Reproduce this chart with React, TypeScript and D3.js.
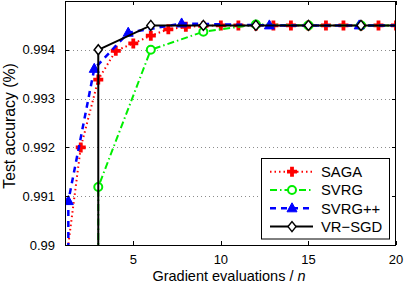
import React from "react";
import * as d3 from "d3";

// SAGA: one point per pass
const sagaX = [1, 2, 3, 4, 5, 6, 7, 8, 9, 10, 11, 12, 13, 14, 15, 16, 17, 18, 19, 20];
const sagaY = [
  0.9892, 0.992, 0.99339, 0.99398, 0.99413, 0.99429, 0.99442, 0.99447, 0.99449, 0.9945,
  0.9945, 0.9945, 0.9945, 0.9945, 0.9945, 0.9945, 0.9945, 0.9945, 0.9945, 0.9945,
];

const svrgX = [3, 3, 6, 9, 12, 15, 18, 21];
const svrgY = [0.98, 0.99119, 0.994, 0.99437, 0.99452, 0.9945, 0.9945, 0.9945];

const svrgppX = [1.29, 1.29, 2.77, 4.71, 7.76, 12.77, 17.9, 22.9];
const svrgppY = [0.98, 0.9909, 0.99361, 0.99435, 0.99454, 0.9945, 0.9945, 0.9945];

const vrsgdX = [3, 3, 6, 9, 12, 15, 18, 21];
const vrsgdY = [0.98, 0.994, 0.9945, 0.9945, 0.9945, 0.9945, 0.9945, 0.9945];

const xTicks = [5, 10, 15, 20];
const yTicks = [0.99, 0.991, 0.992, 0.993, 0.994];
const yTickLabels = ["0.99", "0.991", "0.992", "0.993", "0.994"];

const legendNames = ["SAGA", "SVRG", "SVRG++", "VR\u2212SGD"];

const W = 404;
const H = 284;
const margin = { left: 65, right: 8, top: 1, bottom: 39 };
const font = "'Liberation Sans', Arial, Helvetica, sans-serif";

type Marker = "plus" | "circle" | "triangle" | "diamond";

const series: {
  xs: number[];
  ys: number[];
  color: string;
  dash: string;
  width: number;
  marker: Marker;
}[] = [
  { xs: sagaX, ys: sagaY, color: "#ff0000", dash: "1.5,3", width: 2, marker: "plus" },
  { xs: svrgX, ys: svrgY, color: "#00ee00", dash: "7,3,1.5,3", width: 2, marker: "circle" },
  { xs: svrgppX, ys: svrgppY, color: "#0000ff", dash: "6,5", width: 2.5, marker: "triangle" },
  { xs: vrsgdX, ys: vrsgdY, color: "#000000", dash: "", width: 2, marker: "diamond" },
];

function MarkerShape({ type, x, y, color }: { type: Marker; x: number; y: number; color: string }) {
  if (type === "plus") {
    const a = 5;
    const t = 1.9;
    const d = `M${-t},${-a}H${t}V${-t}H${a}V${t}H${t}V${a}H${-t}V${t}H${-a}V${-t}H${-t}Z`;
    return <path d={d} transform={`translate(${x},${y})`} fill={color} />;
  }
  if (type === "circle") {
    return <circle cx={x} cy={y} r={4} fill="#fff" stroke={color} strokeWidth={2} />;
  }
  if (type === "triangle") {
    return (
      <path d="M0,-5.5L5,3.5L-5,3.5Z" transform={`translate(${x},${y})`} fill={color} stroke={color} strokeWidth={1} />
    );
  }
  return (
    <path d="M0,-5L4,0L0,5L-4,0Z" transform={`translate(${x},${y})`} fill="#fff" stroke={color} strokeWidth={1.5} />
  );
}

export default function App() {
  const x = d3.scaleLinear().domain([1.1, 20]).range([margin.left, W - margin.right]);
  const y = d3.scaleLinear().domain([0.99, 0.995]).range([H - margin.bottom, margin.top]);

  const x0 = margin.left;
  const x1 = W - margin.right;
  const y0 = H - margin.bottom;
  const y1 = margin.top;

  const line = d3
    .line<[number, number]>()
    .x((d) => x(d[0]))
    .y((d) => y(d[1]));

  const lx = 261;
  const ly = 158;
  const rowH = 18.3;

  return (
    <svg width={W} height={H} style={{ position: "absolute", left: 0, top: 0 }} fontFamily={font}>
      <defs>
        <clipPath id="plot">
          <rect x={x0} y={y1} width={x1 - x0} height={y0 - y1} />
        </clipPath>
      </defs>
      <rect width={W} height={H} fill="#fff" />

      {/* grid */}
      {yTicks.slice(1).map((t) => (
        <line
          key={t}
          x1={x0}
          x2={x1}
          y1={Math.round(y(t)) + 0.5}
          y2={Math.round(y(t)) + 0.5}
          stroke="#8c8c8c"
          strokeDasharray="1,3"
        />
      ))}

      <g clipPath="url(#plot)">
        {series.map((s, i) => {
          const pts = s.xs.map((v, j) => [v, s.ys[j]] as [number, number]);
          return (
            <g key={i}>
              <path
                d={line(pts) || ""}
                fill="none"
                stroke={s.color}
                strokeWidth={s.width}
                strokeDasharray={s.dash || undefined}
              />
              {pts.map((p, j) => (
                <MarkerShape key={j} type={s.marker} x={x(p[0])} y={y(p[1])} color={s.color} />
              ))}
            </g>
          );
        })}
      </g>

      {/* box and ticks */}
      <rect x={x0 + 0.5} y={y1 + 0.5} width={x1 - x0 - 1} height={y0 - y1} fill="none" stroke="#000" strokeWidth={1} />
      {xTicks.map((t) => (
        <g key={t}>
          <line x1={Math.round(x(t)) + 0.5} x2={Math.round(x(t)) + 0.5} y1={y0} y2={y0 - 4} stroke="#000" />
          <line x1={Math.round(x(t)) + 0.5} x2={Math.round(x(t)) + 0.5} y1={y1} y2={y1 + 4} stroke="#000" />
          <text x={x(t)} y={264} textAnchor="middle" fontSize={13}>
            {t}
          </text>
        </g>
      ))}
      {yTicks.map((t, i) => (
        <g key={t}>
          <line x1={x0} x2={x0 + 4} y1={Math.round(y(t)) + 0.5} y2={Math.round(y(t)) + 0.5} stroke="#000" />
          <line x1={x1} x2={x1 - 4} y1={Math.round(y(t)) + 0.5} y2={Math.round(y(t)) + 0.5} stroke="#000" />
          <text x={55} y={y(t)} dy="0.36em" textAnchor="end" fontSize={13}>
            {yTickLabels[i]}
          </text>
        </g>
      ))}

      <text x={229} y={280.5} textAnchor="middle" fontSize={14.5}>
        Gradient evaluations / <tspan fontStyle="italic">n</tspan>
      </text>
      <text transform={`translate(15,126) rotate(-90)`} textAnchor="middle" fontSize={15.8}>
        Test accuracy (%)
      </text>

      {/* legend */}
      <rect x={lx + 0.5} y={ly + 0.5} width={128} height={80.5} fill="#fff" stroke="#000" strokeWidth={1} />
      {series.map((s, i) => {
        const cy = ly + 13.7 + i * rowH;
        return (
          <g key={i}>
            <line
              x1={270}
              x2={313}
              y1={cy}
              y2={cy}
              stroke={s.color}
              strokeWidth={s.width}
              strokeDasharray={s.dash || undefined}
            />
            <MarkerShape type={s.marker} x={292} y={cy} color={s.color} />
            <text x={321} y={cy} dy="0.36em" fontSize={14.8}>
              {legendNames[i]}
            </text>
          </g>
        );
      })}
    </svg>
  );
}
